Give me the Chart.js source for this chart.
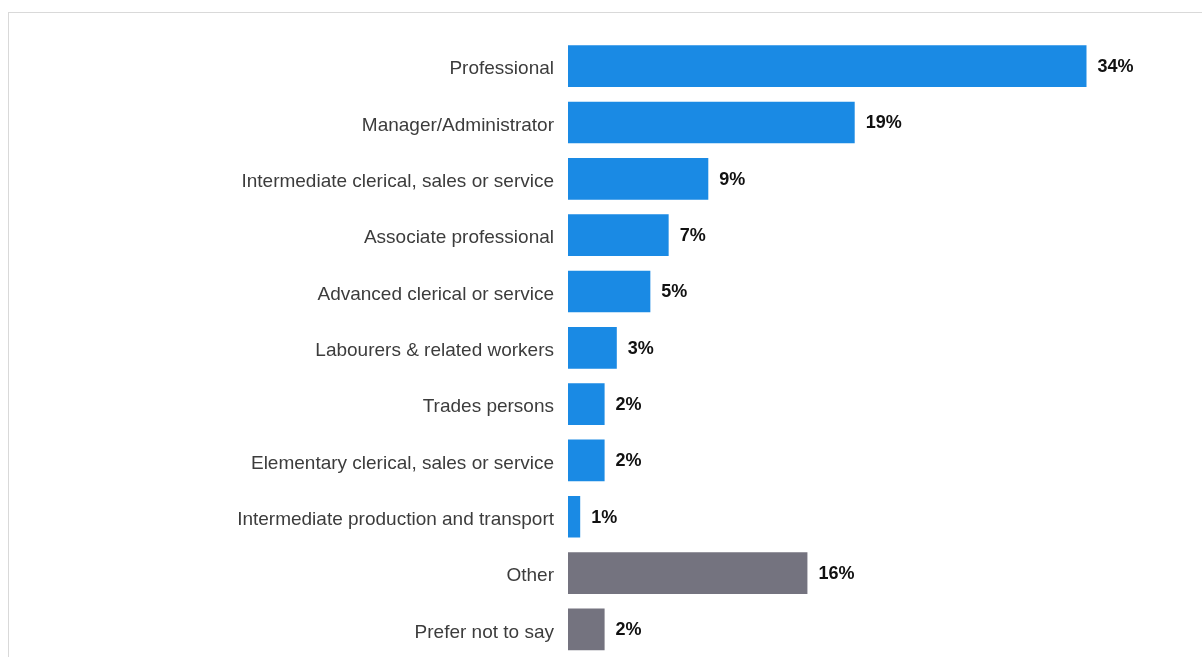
<!DOCTYPE html>
<html>
<head>
<meta charset="utf-8">
<script src="https://cdn.jsdelivr.net/npm/chart.js@4/dist/chart.umd.min.js"></script>
<style>
  html, body { margin: 0; padding: 0; background: #fff; }
  #wrap { position: relative; width: 1202px; height: 657px; overflow: hidden; }
  #frame { position: absolute; left: 8px; top: 12px; width: 1300px; height: 800px;
           border-left: 1px solid #d9d9d9; border-top: 1px solid #d9d9d9; pointer-events: none; }
  canvas { display: block; }
</style>
</head>
<body>
<div id="wrap">
  <div id="frame"></div>
  <!-- canvas is taller than the view: the tick padding eats space under the last bar -->
  <canvas id="chart" width="1202" height="683"></canvas>
</div>
<script>
const categories = [
  'Professional',
  'Manager/Administrator',
  'Intermediate clerical, sales or service',
  'Associate professional',
  'Advanced clerical or service',
  'Labourers & related workers',
  'Trades persons',
  'Elementary clerical, sales or service',
  'Intermediate production and transport',
  'Other',
  'Prefer not to say'
];
const shares = [34.0, 18.8, 9.2, 6.6, 5.4, 3.2, 2.4, 2.4, 0.8, 15.7, 2.4];
const shareLabels = ['34%', '19%', '9%', '7%', '5%', '3%', '2%', '2%', '1%', '16%', '2%'];

const blue = '#1a8ae4';
const grey = '#74737f';
const barColors = categories.map((c, i) => i < 9 ? blue : grey);

// values written at the end of each bar
const valueLabels = {
  id: 'valueLabels',
  afterDatasetsDraw(chart) {
    const ctx = chart.ctx;
    const meta = chart.getDatasetMeta(0);
    ctx.save();
    ctx.font = 'bold 18px "Liberation Sans", Arial, sans-serif';
    ctx.fillStyle = '#111';
    ctx.textAlign = 'left';
    ctx.textBaseline = 'middle';
    meta.data.forEach((bar, i) => {
      ctx.fillText(shareLabels[i], bar.x + 11, bar.y + 1);
    });
    ctx.restore();
  }
};

new Chart(document.getElementById('chart'), {
  type: 'bar',
  data: {
    labels: categories,
    datasets: [{
      data: shares,
      backgroundColor: barColors,
      borderWidth: 0,
      categoryPercentage: 0.74,
      barPercentage: 1
    }]
  },
  options: {
    indexAxis: 'y',
    responsive: false,
    animation: false,
    layout: { padding: { top: 38, bottom: 0, left: 0, right: 24 } },
    plugins: { legend: { display: false }, tooltip: { enabled: false } },
    scales: {
      x: { display: false, min: 0, max: 40 },
      y: {
        grid: { display: false, drawTicks: false },
        border: { display: false },
        ticks: {
          padding: 14,
          labelOffset: 3,
          color: '#3c3c3c',
          font: { family: '"Liberation Sans", Arial, sans-serif', size: 19 }
        },
        afterFit(scale) { scale.width = 568; }
      }
    }
  },
  plugins: [valueLabels]
});
</script>
</body>
</html>
